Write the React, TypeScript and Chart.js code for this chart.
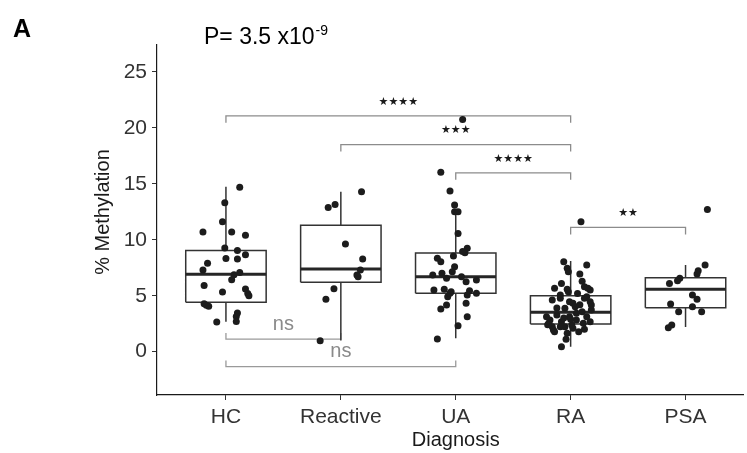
import React, { useEffect, useRef } from "react";
import { Chart, registerables } from "chart.js";

Chart.register(...registerables);

// ---- data ----
const categories = ["HC", "Reactive", "UA", "RA", "PSA"];
const yTickValues = [0, 5, 10, 15, 20, 25];

const whiskerLow = [2.68, 1.0, 1.2, 0.45, 2.2];
const quartile1 = [4.41, 6.2, 5.21, 2.47, 3.93];
const medians = [6.91, 7.38, 6.7, 3.52, 5.57];
const quartile3 = [9.05, 11.29, 8.81, 5.0, 6.61];
const whiskerHigh = [14.73, 14.29, 12.4, 8.1, 7.74];

const hcValues = [14.7, 13.3, 11.6, 10.7, 10.7, 10.4, 9.26, 9.05, 8.66, 8.33, 8.27, 7.9, 7.3, 7.08, 6.87, 6.43, 5.92, 5.33, 5.6, 5.2, 5.0, 4.29, 4.15, 4.05, 3.45, 3.15, 2.65, 2.7];
const hcJitter = [0.12, -0.01, -0.03, -0.2, 0.05, 0.17, -0.01, 0.1, 0.17, 0.0, 0.1, -0.16, -0.2, 0.12, 0.07, 0.05, -0.19, -0.03, 0.17, 0.19, 0.2, -0.19, -0.17, -0.15, 0.1, 0.09, -0.08, 0.09];

const reactiveValues = [14.29, 12.89, 13.16, 9.62, 8.28, 7.29, 6.85, 6.7, 5.63, 4.68, 0.98];
const reactiveJitter = [0.18, -0.11, -0.05, 0.04, 0.19, 0.17, 0.14, 0.15, -0.06, -0.13, -0.18];

const uaValues = [20.75, 16.02, 14.35, 13.1, 12.5, 12.5, 10.57, 9.23, 8.84, 8.95, 8.54, 8.34, 8.04, 7.59, 7.14, 6.85, 7.0, 6.55, 6.7, 6.25, 6.4, 5.51, 5.57, 5.36, 5.45, 5.21, 4.91, 5.21, 5.06, 4.17, 3.81, 4.32, 3.13, 2.32, 1.13];
const uaJitter = [0.06, -0.13, -0.05, -0.01, -0.01, 0.02, 0.02, 0.1, 0.08, 0.06, -0.02, -0.16, -0.13, -0.01, -0.03, -0.2, -0.12, -0.08, 0.05, 0.09, 0.18, -0.19, -0.1, -0.04, 0.12, 0.18, -0.07, -0.05, 0.1, -0.08, -0.13, 0.09, 0.1, 0.02, -0.16];

const raValues = [11.6, 8.04, 7.45, 7.14, 7.74, 6.94, 5.36, 5.66, 5.8, 5.51, 5.06, 4.62, 4.46, 4.91, 4.46, 4.02, 3.88, 3.72, 3.57, 3.28, 3.13, 3.13, 2.83, 2.68, 2.83, 2.68, 2.23, 2.23, 2.09, 1.79, 1.64, 1.79, 0.45, 5.57, 5.66, 4.77, 4.32, 4.77, 4.17, 3.13, 3.43, 2.54, 2.23, 2.38, 2.54, 1.94, 3.9, 4.2, 3.0, 2.0, 2.4, 2.9, 5.2, 6.1, 6.3, 1.1];
const raJitter = [0.09, -0.06, -0.03, -0.02, 0.14, 0.08, -0.02, -0.14, 0.12, 0.17, -0.09, -0.16, -0.01, 0.14, 0.17, 0.04, -0.05, 0.18, 0.1, -0.12, -0.01, 0.14, -0.18, -0.08, 0.05, 0.17, -0.16, -0.05, 0.02, -0.14, -0.03, 0.07, -0.08, -0.03, 0.15, -0.09, 0.02, 0.12, 0.18, -0.21, 0.05, -0.19, -0.09, 0.01, 0.11, -0.15, -0.12, 0.08, -0.06, 0.12, -0.2, 0.0, 0.06, -0.08, 0.1, -0.04];

const psaValues = [12.71, 7.74, 7.23, 6.94, 6.55, 6.34, 6.1, 5.06, 4.68, 4.26, 4.02, 3.57, 3.57, 2.38, 2.14];
const psaJitter = [0.19, 0.17, 0.11, 0.1, -0.05, -0.07, -0.14, 0.06, 0.1, -0.13, 0.06, -0.06, 0.14, -0.12, -0.15];

const groupValues = [hcValues, reactiveValues, uaValues, raValues, psaValues];
const groupJitter = [hcJitter, reactiveJitter, uaJitter, raJitter, psaJitter];

// significance brackets (group indexes, bracket height, label)
const sigFrom = [0, 1, 2, 3];
const sigTo = [3, 3, 3, 4];
const sigHeight = [21.07, 18.5, 15.98, 11.1];
const sigLabels = ["★★★★", "★★★", "★★★★", "★★"];

const nsFrom = [0, 0];
const nsTo = [1, 2];
const nsHeight = [1.13, -1.34];
const nsLabels = ["ns", "ns"];

const pText = "P= 3.5 x10";
const pExponent = "-9";
const panelLabel = "A";
const xTitle = "Diagnosis";
const yTitle = "% Methylation";

// ---- styles / geometry constants ----
const BOX_HALF = 0.35;
const SIG_TIP = 0.62;
const NS_TIP = 0.55;
const FONT = "'Liberation Sans', Arial, sans-serif";

type P = { x: number; y: number | null };

function buildPoints(): P[] {
  const out: P[] = [];
  groupValues.forEach((vals, g) => {
    vals.forEach((v, i) => out.push({ x: g + 1 + groupJitter[g][i], y: v }));
  });
  return out;
}

function buildBoxes(): P[] {
  const out: P[] = [];
  categories.forEach((_, i) => {
    const c = i + 1;
    out.push({ x: c - BOX_HALF, y: quartile1[i] });
    out.push({ x: c + BOX_HALF, y: quartile1[i] });
    out.push({ x: c + BOX_HALF, y: quartile3[i] });
    out.push({ x: c - BOX_HALF, y: quartile3[i] });
    out.push({ x: c - BOX_HALF, y: quartile1[i] });
    out.push({ x: c, y: null });
  });
  return out;
}

function buildMedians(): P[] {
  const out: P[] = [];
  categories.forEach((_, i) => {
    const c = i + 1;
    out.push({ x: c - BOX_HALF, y: medians[i] });
    out.push({ x: c + BOX_HALF, y: medians[i] });
    out.push({ x: c, y: null });
  });
  return out;
}

function buildWhiskers(): P[] {
  const out: P[] = [];
  categories.forEach((_, i) => {
    const c = i + 1;
    out.push({ x: c, y: quartile3[i] });
    out.push({ x: c, y: whiskerHigh[i] });
    out.push({ x: c, y: null });
    out.push({ x: c, y: whiskerLow[i] });
    out.push({ x: c, y: quartile1[i] });
    out.push({ x: c, y: null });
  });
  return out;
}

function buildBrackets(from: number[], to: number[], h: number[], tip: number): P[] {
  const out: P[] = [];
  from.forEach((f, i) => {
    const a = f + 1;
    const b = to[i] + 1;
    out.push({ x: a, y: h[i] + tip });
    out.push({ x: a, y: h[i] });
    out.push({ x: b, y: h[i] });
    out.push({ x: b, y: h[i] + tip });
    out.push({ x: b, y: null });
  });
  return out;
}

const textPlugin = {
  id: "texts",
  afterDraw(chart: any) {
    const ctx = chart.ctx as CanvasRenderingContext2D;
    const xs = chart.scales.x;
    const ys = chart.scales.y;
    const area = chart.chartArea;
    ctx.save();

    // panel label
    ctx.fillStyle = "#000";
    ctx.font = `bold 25px ${FONT}`;
    ctx.textAlign = "left";
    ctx.textBaseline = "alphabetic";
    ctx.fillText(panelLabel, 13, 37);

    // p value
    ctx.font = `23px ${FONT}`;
    ctx.fillText(pText, 204, 44);
    const w = ctx.measureText(pText).width;
    ctx.font = `14px ${FONT}`;
    ctx.fillText(pExponent, 204 + w + 1, 35);

    // axis titles
    ctx.fillStyle = "#1a1a1a";
    ctx.font = `20px ${FONT}`;
    ctx.textAlign = "center";
    ctx.textBaseline = "middle";
    const panelRight = xs.getPixelForValue(5.6);
    ctx.fillText(xTitle, (area.left + panelRight) / 2, 440);
    ctx.save();
    ctx.translate(103, 212);
    ctx.rotate(-Math.PI / 2);
    ctx.fillText(yTitle, 0, 0);
    ctx.restore();

    // significance labels
    ctx.fillStyle = "#1a1a1a";
    ctx.font = `11px 'DejaVu Sans', sans-serif`;
    sigFrom.forEach((f, i) => {
      const x = (xs.getPixelForValue(f + 1) + xs.getPixelForValue(sigTo[i] + 1)) / 2;
      const y = ys.getPixelForValue(sigHeight[i]) - 14;
      ctx.fillText(sigLabels[i], x, y);
    });
    ctx.fillStyle = "#8a8a8a";
    ctx.font = `20px ${FONT}`;
    nsFrom.forEach((f, i) => {
      const x = (xs.getPixelForValue(f + 1) + xs.getPixelForValue(nsTo[i] + 1)) / 2;
      const y = ys.getPixelForValue(nsHeight[i]) - 15;
      ctx.fillText(nsLabels[i], x, y);
    });
    ctx.restore();
  },
};

export default function App() {
  const ref = useRef<HTMLCanvasElement | null>(null);

  useEffect(() => {
    if (!ref.current) return;
    const lineDs = (label: string, data: P[], color: string, width: number) => ({
      label,
      data,
      showLine: true,
      spanGaps: false,
      borderColor: color,
      borderWidth: width,
      pointRadius: 0,
      fill: false,
      tension: 0,
    });
    const chart = new Chart(ref.current, {
      type: "scatter",
      data: {
        datasets: [
          {
            label: "points",
            data: buildPoints(),
            pointRadius: 3.5,
            pointBackgroundColor: "#1c1c1c",
            pointBorderWidth: 0,
            showLine: false,
          } as any,
          lineDs("median", buildMedians(), "#262626", 3),
          lineDs("box", buildBoxes(), "#333", 1.5),
          lineDs("whisker", buildWhiskers(), "#333", 1.5),
          lineDs("sig", buildBrackets(sigFrom, sigTo, sigHeight, -SIG_TIP), "#8c8c8c", 1.3),
          lineDs("ns", buildBrackets(nsFrom, nsTo, nsHeight, NS_TIP), "#9a9a9a", 1.3),
        ],
      },
      options: {
        responsive: false,
        animation: false,
        devicePixelRatio: 1,
        layout: { padding: { top: 45, right: 0, bottom: 0, left: 0 } },
        plugins: { legend: { display: false }, tooltip: { enabled: false } },
        scales: {
          x: {
            type: "linear",
            min: 0.4,
            max: 5.5,
            afterBuildTicks: (s: any) => {
              s.ticks = categories.map((_, i) => ({ value: i + 1 }));
            },
            afterFit: (s: any) => {
              s.height = 58;
            },
            ticks: {
              autoSkip: false,
              maxRotation: 0,
              padding: 5,
              color: "#333",
              font: { family: FONT, size: 21 },
              callback: (v: any) => categories[Math.round(Number(v)) - 1] ?? "",
            },
            grid: { display: true, drawOnChartArea: false, drawTicks: true, tickLength: 5, color: "#333" },
            border: { display: true, color: "#1a1a1a", width: 1.2 },
          },
          y: {
            type: "linear",
            min: -3.87,
            max: 27.4,
            afterBuildTicks: (s: any) => {
              s.ticks = yTickValues.map((v) => ({ value: v }));
            },
            afterFit: (s: any) => {
              s.width = 157;
            },
            ticks: {
              padding: 5,
              color: "#333",
              font: { family: FONT, size: 21 },
            },
            grid: { display: true, drawOnChartArea: false, drawTicks: true, tickLength: 5, color: "#333" },
            border: { display: true, color: "#1a1a1a", width: 1.2 },
          },
        },
      },
      plugins: [textPlugin],
    } as any);
    return () => chart.destroy();
  }, []);

  return (
    <div style={{ position: "absolute", left: 0, top: 0, width: 747, height: 453, background: "#fff" }}>
      <canvas ref={ref} width={747} height={453} style={{ display: "block", width: 747, height: 453 }} />
    </div>
  );
}
